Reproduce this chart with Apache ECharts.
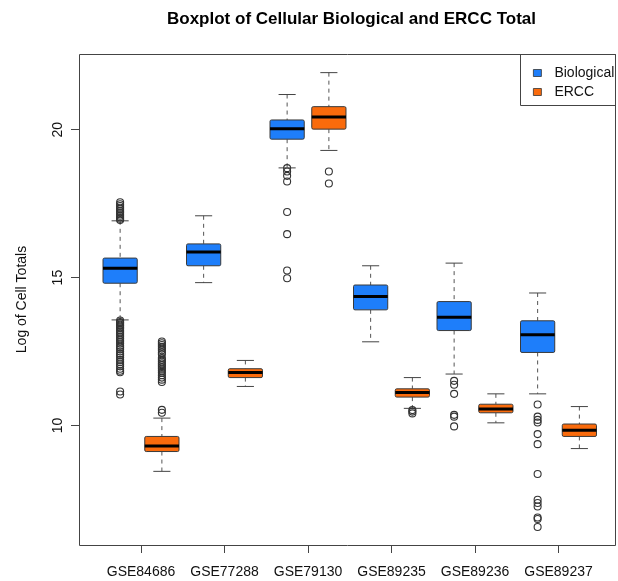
<!DOCTYPE html>
<html>
<head>
<meta charset="utf-8">
<script src="https://cdn.jsdelivr.net/npm/echarts@6/dist/echarts.min.js"></script>
<style>
html,body{margin:0;padding:0;background:#fff;}
#chart{width:618px;height:581px;}
</style>
</head>
<body>
<div id="chart"></div>
<script>
const categories = ['GSE84686', 'GSE77288', 'GSE79130', 'GSE89235', 'GSE89236', 'GSE89237'];
const yTicks = [10, 15, 20];
// [lower whisker, Q1, median, Q3, upper whisker]
const bioStats = [
  [13.57, 14.81, 15.32, 15.66, 16.92],
  [14.83, 15.40, 15.87, 16.14, 17.09],
  [18.71, 19.68, 20.03, 20.33, 21.19],
  [12.83, 13.91, 14.36, 14.75, 15.40],
  [11.74, 13.21, 13.66, 14.19, 15.49],
  [11.07, 12.47, 13.07, 13.54, 14.48]
];
const erccStats = [
  [8.45, 9.12, 9.31, 9.63, 10.25],
  [11.32, 11.62, 11.79, 11.92, 12.20],
  [19.30, 20.02, 20.43, 20.78, 21.93],
  [10.58, 10.96, 11.12, 11.24, 11.62],
  [10.09, 10.43, 10.56, 10.72, 11.07],
  [9.22, 9.63, 9.84, 10.05, 10.64]
];
const bioOutliers = [
  [17.55, 17.48, 17.42, 17.36, 17.31, 17.25, 17.20, 17.14, 17.09, 17.04, 16.99, 16.95,
   13.55, 13.50, 13.46, 13.41, 13.37, 13.32, 13.28, 13.22, 13.17, 13.12, 13.06, 13.00,
   12.94, 12.88, 12.83, 12.77, 12.70, 12.64, 12.58, 12.50, 12.43, 12.37, 12.30, 12.22,
   12.15, 12.07, 12.00, 11.92, 11.85, 11.80, 11.15, 11.05],
  [],
  [18.70, 18.59, 18.44, 18.25, 17.22, 16.47, 15.24, 14.98],
  [],
  [11.51, 11.38, 11.07, 10.36, 10.30, 9.97],
  [10.71, 10.30, 10.19, 10.10, 9.71, 9.37, 8.36, 7.49, 7.38, 7.26, 6.89, 6.84, 6.57]
];
const erccOutliers = [
  [12.84, 12.78, 12.72, 12.66, 12.60, 12.54, 12.47, 12.41, 12.28, 12.22, 12.16, 12.10,
   12.04, 11.98, 11.92, 11.85, 11.78, 11.70, 11.62, 11.55, 11.47, 10.53, 10.43],
  [],
  [18.59, 18.18],
  [10.52, 10.47, 10.41],
  [],
  []
];
const seriesNames = ['Biological', 'ERCC'];
const seriesColors = ['#1E7EFA', '#FA6B0C'];

const FONT = '"Liberation Sans", Arial, Helvetica, sans-serif';

function boxRenderer(side, fill) {
  return function (params, api) {
    const i = api.value(0);
    const bw = api.size([1, 0])[0];
    const cx = api.coord([i, 0])[0] + side * bw * 0.25;
    const hw = bw * 0.205;
    const cw = hw * 0.5;
    const y = k => api.coord([i, api.value(k)])[1];
    const lo = y(1), q1 = y(2), md = y(3), q3 = y(4), hi = y(5);
    const dash = { stroke: '#555', lineWidth: 1, lineDash: [4, 4] };
    const solid = { stroke: '#444', lineWidth: 1 };
    return {
      type: 'group',
      children: [
        { type: 'line', shape: { x1: cx, y1: hi, x2: cx, y2: q3 }, style: dash },
        { type: 'line', shape: { x1: cx, y1: q1, x2: cx, y2: lo }, style: dash },
        { type: 'line', shape: { x1: cx - cw, y1: hi, x2: cx + cw, y2: hi }, style: solid },
        { type: 'line', shape: { x1: cx - cw, y1: lo, x2: cx + cw, y2: lo }, style: solid },
        { type: 'rect', shape: { x: cx - hw, y: q3, width: 2 * hw, height: q1 - q3, r: 1.5 },
          style: { fill: fill, stroke: '#3a3a3a', lineWidth: 1 } },
        { type: 'line', shape: { x1: cx - hw, y1: md, x2: cx + hw, y2: md },
          style: { stroke: '#000', lineWidth: 3 } }
      ]
    };
  };
}
function outlierRenderer(side) {
  return function (params, api) {
    const i = api.value(0);
    const bw = api.size([1, 0])[0];
    const p = api.coord([i, api.value(1)]);
    return {
      type: 'circle',
      shape: { cx: p[0] + side * bw * 0.25, cy: p[1], r: 3.5 },
      style: { fill: 'none', stroke: '#333', lineWidth: 1.1 }
    };
  };
}
function statsData(stats) {
  return stats.map((s, i) => [i].concat(s));
}
function outlierData(lists) {
  const out = [];
  lists.forEach((arr, i) => arr.forEach(v => out.push([i, v])));
  return out;
}

const chart = echarts.init(document.getElementById('chart'), null, { renderer: 'canvas' });
const option = {
  animation: false,
  backgroundColor: '#fff',
  title: {
    text: 'Boxplot of Cellular Biological and ERCC Total',
    left: 167, top: 11, padding: 0,
    textStyle: { fontFamily: FONT, fontSize: 17, fontWeight: 'bold', color: '#000' }
  },
  legend: {
    data: seriesNames,
    orient: 'vertical',
    left: 521, top: 54,
    padding: [12, 0, 6, 12],
    icon: 'rect',
    itemWidth: 8, itemHeight: 7, itemGap: 5,
    itemStyle: { borderColor: '#333', borderWidth: 0.8 },
    textStyle: { fontFamily: FONT, fontSize: 14, lineHeight: 14, color: '#111', padding: [0, 0, 0, 8] },
    selectedMode: false
  },
  grid: {
    left: 99.25, width: 501, top: 54, bottom: 36,
    outerBoundsMode: 'none', containLabel: false
  },
  xAxis: {
    type: 'category',
    data: categories,
    axisLine: { show: false },
    axisTick: { show: true, alignWithLabel: true, length: 8, lineStyle: { color: '#444' } },
    axisLabel: { fontFamily: FONT, fontSize: 14, color: '#111', margin: 20, interval: 0 },
    splitLine: { show: false }
  },
  yAxis: {
    type: 'value',
    min: 5.96, max: 22.56,
    offset: 20.25,
    name: 'Log of Cell Totals',
    nameLocation: 'middle',
    nameGap: 50,
    nameTextStyle: { fontFamily: FONT, fontSize: 14, color: '#111' },
    axisLine: { show: false },
    axisTick: { show: true, length: 8, customValues: yTicks, lineStyle: { color: '#444' } },
    axisLabel: { fontFamily: FONT, fontSize: 14, color: '#111', rotate: 90, margin: 14, customValues: yTicks },
    splitLine: { show: false }
  },
  graphic: [
    { type: 'rect', z: 50, shape: { x: 79.5, y: 54.5, width: 536, height: 491 },
      style: { fill: 'none', stroke: '#444', lineWidth: 1 } },
    { type: 'rect', z: 50, shape: { x: 520.5, y: 54.5, width: 95, height: 51 },
      style: { fill: 'none', stroke: '#444', lineWidth: 1 } }
  ],
  series: [
    { name: seriesNames[0], type: 'custom', renderItem: boxRenderer(-1, seriesColors[0]),
      itemStyle: { color: seriesColors[0] }, encode: { x: 0, y: [1, 2, 3, 4, 5] },
      data: statsData(bioStats), z: 3 },
    { name: seriesNames[1], type: 'custom', renderItem: boxRenderer(1, seriesColors[1]),
      itemStyle: { color: seriesColors[1] }, encode: { x: 0, y: [1, 2, 3, 4, 5] },
      data: statsData(erccStats), z: 3 },
    { name: seriesNames[0], type: 'custom', renderItem: outlierRenderer(-1),
      itemStyle: { color: seriesColors[0] }, encode: { x: 0, y: 1 },
      data: outlierData(bioOutliers), z: 4 },
    { name: seriesNames[1], type: 'custom', renderItem: outlierRenderer(1),
      itemStyle: { color: seriesColors[1] }, encode: { x: 0, y: 1 },
      data: outlierData(erccOutliers), z: 4 }
  ]
};
chart.setOption(option);
</script>
</body>
</html>
